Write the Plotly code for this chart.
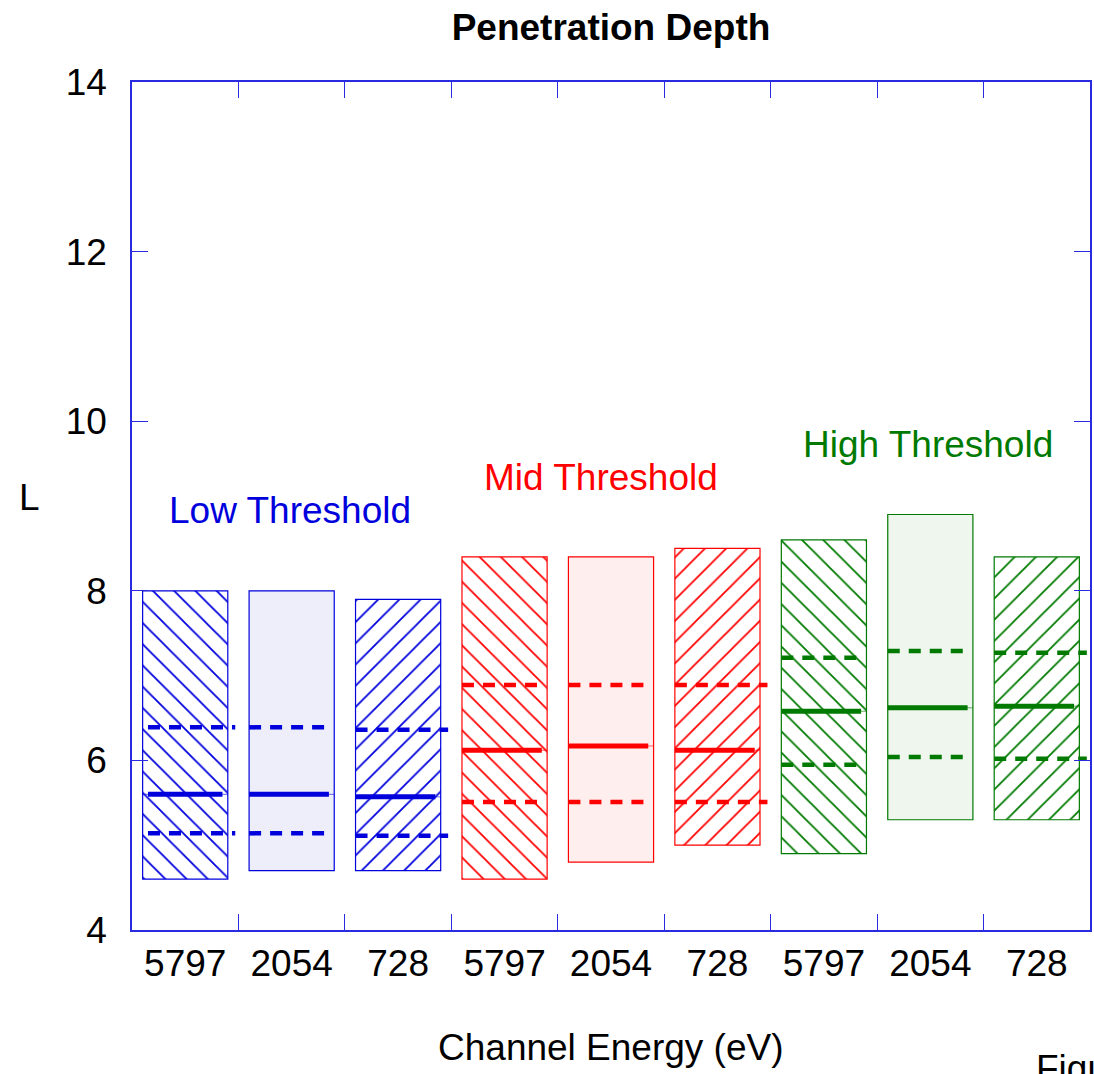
import plotly.graph_objects as go

# ---- data ----
tick_labels = ["5797", "2054", "728", "5797", "2054", "728", "5797", "2054", "728"]
groups = ["Low Threshold", "Mid Threshold", "High Threshold"]
box_top = [8.0, 8.0, 7.9, 8.4, 8.4, 8.5, 8.6, 8.9, 8.4]
box_bottom = [4.6, 4.7, 4.7, 4.6, 4.8, 5.0, 4.9, 5.3, 5.3]
median = [5.6, 5.6, 5.57, 6.12, 6.17, 6.12, 6.58, 6.62, 6.64]
upper_dash = [6.39, 6.39, 6.36, 6.89, 6.89, 6.89, 7.21, 7.29, 7.27]
lower_dash = [5.14, 5.14, 5.11, 5.51, 5.51, 5.51, 5.95, 6.04, 6.02]

# ---- styles ----
colors = ["#0000dd", "#ff0000", "#007a00"]
light = ["#eeeefa", "#ffeeee", "#eef6ee"]
patterns = ["\\", "", "/"]
FONT = "Liberation Sans, Arial, sans-serif"
FS = 37

n = len(tick_labels)
xs = list(range(n))

fig = go.Figure()
for i in range(n):
    g, k = i // 3, i % 3
    if k == 1:
        marker = dict(color=light[g], line=dict(color=colors[g], width=1.2))
    else:
        marker = dict(color="white", line=dict(color=colors[g], width=1.2),
                      pattern=dict(shape=patterns[k], fgcolor=colors[g], bgcolor="white",
                                   fgopacity=1, size=15, solidity=0.12))
    fig.add_trace(go.Bar(x=[xs[i]], y=[box_top[i] - box_bottom[i]], base=[box_bottom[i]],
                         width=0.8, marker=marker, showlegend=False, hoverinfo="skip"))

# thin split line across each box at median level
for g in range(3):
    lx, ly = [], []
    for i in range(3 * g, 3 * g + 3):
        lx += [i - 0.4, i + 0.4, None]
        ly += [median[i], median[i], None]
    fig.add_trace(go.Scatter(x=lx, y=ly, mode="lines", line=dict(color=colors[g], width=1),
                             opacity=0.6, showlegend=False, hoverinfo="skip"))

# thick median and dashed lines
for g in range(3):
    mx, my, dx, dy = [], [], [], []
    for i in range(3 * g, 3 * g + 3):
        k = i % 3
        left = -0.35 if i == 0 else -0.4
        mx += [i + left, i + 0.35, None]
        my += [median[i], median[i], None]
        right = 0.47 if (k == 2 or i == 0) else 0.33
        for v in (upper_dash[i], lower_dash[i]):
            dx += [i + left, i + right, None]
            dy += [v, v, None]
    fig.add_trace(go.Scatter(x=mx, y=my, mode="lines", line=dict(color=colors[g], width=5),
                             showlegend=False, hoverinfo="skip"))
    fig.add_trace(go.Scatter(x=dx, y=dy, mode="lines",
                             line=dict(color=colors[g], width=4.5, dash="12px,9px"),
                             showlegend=False, hoverinfo="skip"))

# invisible trace for label axis
fig.add_trace(go.Scatter(x=xs, y=median, xaxis="x2", mode="markers",
                         marker=dict(opacity=0), showlegend=False, hoverinfo="skip"))

axcol = "#2a2ae0"
fig.update_layout(
    width=1094, height=1074,
    margin=dict(l=132, r=2, t=82, b=144),
    paper_bgcolor="white", plot_bgcolor="white",
    barmode="overlay",
    title=dict(text="<b>Penetration Depth</b>", x=0.5, xref="paper", y=0.975, yanchor="middle",
               font=dict(family=FONT, size=FS, color="black")),
    xaxis=dict(range=[-0.5, n - 0.5], tickmode="array",
               tickvals=[i + 0.5 for i in range(n - 1)],
               ticks="inside", ticklen=16, tickcolor=axcol, tickwidth=1,
               showticklabels=False, showgrid=False, zeroline=False,
               showline=True, linecolor=axcol, linewidth=1.5, mirror="ticks"),
    xaxis2=dict(range=[-0.5, n - 0.5], overlaying="x", side="bottom", matches="x",
                tickmode="array", tickvals=xs, ticktext=tick_labels, ticks="",
                ticklabelstandoff=8,
                tickfont=dict(family=FONT, size=FS, color="black"),
                showgrid=False, zeroline=False, showline=False),
    yaxis=dict(range=[4, 14], tickmode="array", tickvals=[4, 6, 8, 10, 12, 14],
               ticks="inside", ticklen=16, tickcolor=axcol, tickwidth=1,
               ticklabelstandoff=16,
               tickfont=dict(family=FONT, size=FS, color="black"),
               showgrid=False, zeroline=False,
               showline=True, linecolor=axcol, linewidth=1.5, mirror="ticks"),
)

label_pos = [(0.98, 8.95), (3.91, 9.34), (6.98, 9.72)]
for g in range(3):
    fig.add_annotation(x=label_pos[g][0], y=label_pos[g][1], xref="x", yref="y",
                       text=groups[g], showarrow=False,
                       font=dict(family=FONT, size=FS, color=colors[g]))

fig.add_annotation(x=-0.12, y=0.51, xref="paper", yref="paper", text="L", showarrow=False,
                   font=dict(family=FONT, size=FS, color="black"))
fig.add_annotation(x=0.5, y=-0.138, xref="paper", yref="paper", text="Channel Energy (eV)",
                   showarrow=False, yanchor="middle",
                   font=dict(family=FONT, size=FS, color="black"))
fig.add_annotation(x=0.942, y=-0.137, xref="paper", yref="paper", text="Figure",
                   showarrow=False, xanchor="left", yanchor="top",
                   font=dict(family=FONT, size=FS, color="black"))

fig.write_html("out.html")
